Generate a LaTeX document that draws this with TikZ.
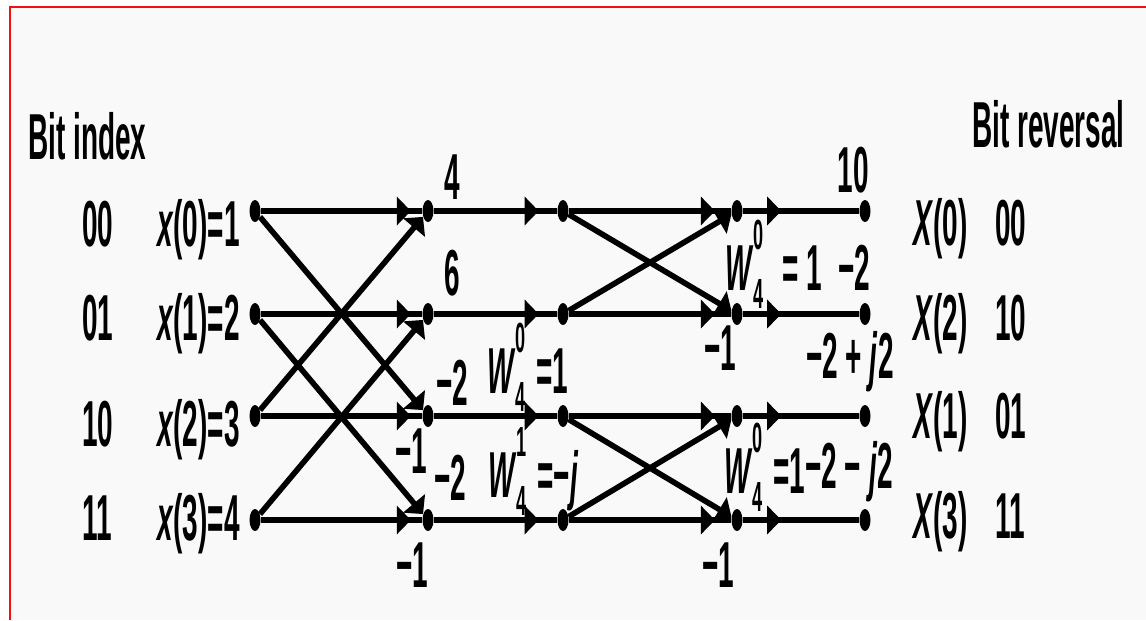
\documentclass[tikz,border=0pt]{standalone}
\usepackage{fontspec}
\newfontfamily\cond{Liberation Sans}[FakeStretch=0.43]
\usetikzlibrary{arrows.meta,shapes.geometric,decorations.markings}
\definecolor{paper}{HTML}{F9F9F9}
\definecolor{framered}{HTML}{F01010}
\newcommand{\subfs}{\fontsize{24}{24}\selectfont}
\newcommand{\twid}[2]{\textit{W}\rlap{\raisebox{0.62em}{\subfs #1}}\raisebox{-0.28em}{\subfs #2}}

\begin{document}
\begin{tikzpicture}[x=0.02cm, y=-0.02cm, >={Triangle[length=0.28cm,width=0.56cm]},
  dot/.style={ellipse, fill, inner sep=0pt, minimum width=0.22cm, minimum height=0.44cm},
  flow/.style={line width=3.2pt},
  midarrow/.style={postaction={decorate}, decoration={markings,
    mark=at position #1 with {\arrow{Triangle[length=0.28cm,width=0.56cm]}}}},
  lbl/.style={font=\cond\bfseries\fontsize{37}{40}\selectfont, inner sep=0pt}]
\useasboundingbox (0,0) rectangle (1146,620);
\fill[white] (0,0) rectangle (1146,620);
\fill[paper] (10,7) rectangle (1146,620);
\draw[framered, line width=0.04cm] (10,620) -- (10,7) -- (1146,7);
\foreach \r/\y in {0/211,1/314,2/416,3/520}{
  \node[dot] (a\r) at (255,\y) {};
  \node[dot] (b\r) at (428,\y) {};
  \node[dot] (c\r) at (563,\y) {};
  \node[dot] (d\r) at (737,\y) {};
  \node[dot] (e\r) at (865,\y) {};
}
\foreach \r in {0,...,3}{
  \draw[flow, midarrow=0.93] (a\r) -- (b\r);
  \draw[flow, midarrow=0.85] (b\r) -- (c\r);
  \draw[flow, midarrow=0.9] (c\r) -- (d\r);
  \draw[flow, midarrow=0.33] (d\r) -- (e\r);
}
\draw[flow, ->] (a0) -- (b2);
\draw[flow, ->] (a1) -- (b3);
\draw[flow, ->] (a2) -- (b0);
\draw[flow, ->] (a3) -- (b1);
\draw[flow, ->] (c0) -- (d1);
\draw[flow, ->] (c1) -- (d0);
\draw[flow, ->] (c2) -- (d3);
\draw[flow, ->] (c3) -- (d2);
\node[lbl, anchor=base west] (bitidx) at (28,159) {Bit index};
\node[lbl, anchor=base west] (bitrev) at (972,147) {Bit reversal};
\node[lbl, anchor=base west] (code0) at (82,246) {00};
\node[lbl, anchor=base west] (code1) at (82,340) {01};
\node[lbl, anchor=base west] (code2) at (82,446) {10};
\node[lbl, anchor=base west] (code3) at (82,540) {11};
\node[lbl, anchor=base east] (in0) at (240,246) {\textit{x}(0)=1};
\node[lbl, anchor=base east] (in1) at (240,340) {\textit{x}(1)=2};
\node[lbl, anchor=base east] (in2) at (240,446) {\textit{x}(2)=3};
\node[lbl, anchor=base east] (in3) at (240,540) {\textit{x}(3)=4};
\node[lbl, anchor=base west] (out0) at (913,245) {\textit{X}(0)};
\node[lbl, anchor=base west] (out2) at (913,340) {\textit{X}(2)};
\node[lbl, anchor=base west] (out1) at (913,438) {\textit{X}(1)};
\node[lbl, anchor=base west] (out3) at (913,538) {\textit{X}(3)};
\node[lbl, anchor=base west] (rev0) at (995,245) {00};
\node[lbl, anchor=base west] (rev2) at (995,340) {10};
\node[lbl, anchor=base west] (rev1) at (995,438) {01};
\node[lbl, anchor=base west] (rev3) at (995,538) {11};
\node[lbl, anchor=base] (val0) at (452,199) {4};
\node[lbl, anchor=base] (val1) at (452,295) {6};
\node[lbl, anchor=base] (val2) at (452,405) {−2};
\node[lbl, anchor=base] (val3) at (450,500) {−2};
\node[lbl, anchor=base] (neg2) at (411,473) {−1};
\node[lbl, anchor=base] (neg3) at (412,587) {−1};
\node[lbl, anchor=base west] (tw1) at (487,393) {\twid{0}{4}\,=1};
\node[lbl, anchor=base west] (tw2) at (488,497) {\twid{1}{4}\,=−\textit{j}};
\node[lbl, anchor=base] (res0) at (853,192) {10};
\node[lbl, anchor=base] (res1) at (854,290) {−2};
\node[lbl, anchor=base] (res2) at (850,378) {−2 + \textit{j}2};
\node[lbl, anchor=base west] (res3) at (805,488) {−2 − \textit{j}2};
\node[lbl, anchor=base] (neg5) at (720,370) {−1};
\node[lbl, anchor=base] (neg7) at (718,587) {−1};
\node[lbl, anchor=base west] (tw3) at (725,290) {\twid{0}{4}\, = 1};
\node[lbl, anchor=base west] (tw4) at (724,493) {\twid{0}{4}\,=1};
\end{tikzpicture}
\end{document}
